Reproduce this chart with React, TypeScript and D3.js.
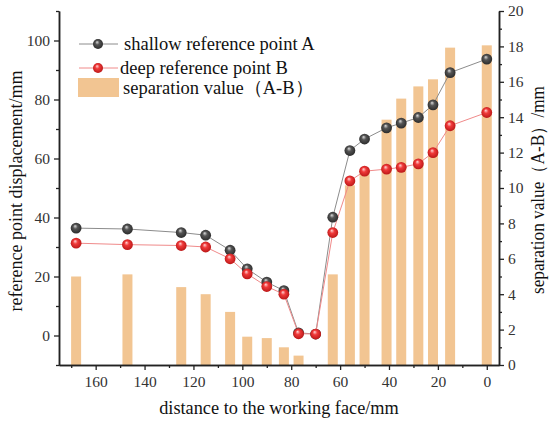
import { useEffect, useRef } from "react"
import * as d3 from "d3"

// distance to working face (mm)
const distance = [168, 147, 125, 115, 105, 98, 90, 83, 77, 70, 63, 56, 50, 41, 35, 28, 22, 15, 0]
// shallow reference point A (mm)
const shallowA = [36.4, 36.1, 34.9, 34.0, 28.9, 22.6, 18.1, 15.2, 0.9, 0.5, 40.1, 62.7, 66.6, 70.4, 72.0, 73.9, 78.2, 89.1, 93.7]
// deep reference point B (mm)
const deepB = [31.3, 30.8, 30.5, 30.0, 26.0, 20.9, 16.6, 14.0, 0.6, 0.5, 34.9, 52.4, 55.7, 56.4, 57.0, 58.2, 62.0, 71.1, 75.6]
// separation value A-B (mm, right axis)
const separation = [5.0, 5.12, 4.4, 4.0, 3.0, 1.6, 1.52, 1.0, 0.53, 0, 5.12, 10.15, 10.9, 13.86, 15.05, 15.74, 16.14, 17.93, 18.06]

const xTicks = [160, 140, 120, 100, 80, 60, 40, 20, 0]
const leftTicks = [0, 20, 40, 60, 80, 100]
const rightTicks = [0, 2, 4, 6, 8, 10, 12, 14, 16, 18, 20]

const legendItems = ["shallow reference point A", "deep reference point B", "separation value（A-B）"]

const W = 550
const H = 426
const FONT = "'Liberation Serif', 'DejaVu Serif', serif"

export default function App() {
    const svgRef = useRef<SVGSVGElement | null>(null)

    useEffect(() => {
        if (!svgRef.current) return
        const margin = { top: 11, right: 51, bottom: 61, left: 59 }
        const innerWidth = W - margin.left - margin.right
        const innerHeight = H - margin.top - margin.bottom

        const svg = d3.select(svgRef.current)
        svg.selectAll("*").remove()

        const defs = svg.append("defs")
        const addGrad = (id: string, light: string, mid: string, dark: string) => {
            const g = defs.append("radialGradient")
                .attr("id", id)
                .attr("cx", "50%").attr("cy", "50%").attr("r", "60%")
                .attr("fx", "40%").attr("fy", "30%")
            g.append("stop").attr("offset", "0%").attr("stop-color", light)
            g.append("stop").attr("offset", "35%").attr("stop-color", mid)
            g.append("stop").attr("offset", "100%").attr("stop-color", dark)
        }
        addGrad("ballA", "#dddddd", "#555555", "#222222")
        addGrad("ballB", "#ffd6d6", "#f03a3a", "#b01010")

        const g = svg.append("g").attr("transform", `translate(${margin.left},${margin.top})`)

        const x = d3.scaleLinear().domain([175, -5]).range([0, innerWidth])
        const yL = d3.scaleLinear().domain([-10, 110]).range([innerHeight, 0])
        const yR = d3.scaleLinear().domain([0, 20]).range([innerHeight, 0])

        // bars
        const barW = 10
        g.append("g")
            .selectAll("rect")
            .data(distance.map((d, i) => ({ d, v: separation[i] })))
            .enter()
            .append("rect")
            .attr("x", (p) => x(p.d) - barW / 2)
            .attr("y", (p) => yR(p.v))
            .attr("width", barW)
            .attr("height", (p) => innerHeight - yR(p.v))
            .attr("fill", "#f2c592")

        const lineGen = (vals: number[]) =>
            d3.line<number>().x((_, i) => x(distance[i])).y((v) => yL(v))(vals)

        g.append("path").attr("d", lineGen(shallowA)).attr("fill", "none").attr("stroke", "#8c8c8c").attr("stroke-width", 1)
        g.append("path").attr("d", lineGen(deepB)).attr("fill", "none").attr("stroke", "#f08a8a").attr("stroke-width", 1)

        g.append("g").selectAll("circle").data(shallowA).enter().append("circle")
            .attr("cx", (_, i) => x(distance[i])).attr("cy", (v) => yL(v)).attr("r", 5.4)
            .attr("fill", "url(#ballA)")
        g.append("g").selectAll("circle").data(deepB).enter().append("circle")
            .attr("cx", (_, i) => x(distance[i])).attr("cy", (v) => yL(v)).attr("r", 5.4)
            .attr("fill", "url(#ballB)")

        // axes
        const styleAxis = (sel: d3.Selection<SVGGElement, unknown, null, undefined>) => {
            sel.select(".domain").attr("stroke", "#222").attr("stroke-width", 1.5)
            sel.selectAll(".tick line").attr("stroke", "#222").attr("stroke-width", 1.3)
            sel.selectAll(".tick text").attr("fill", "#333").attr("font-family", FONT).attr("font-size", 15.5)
        }

        const xMinor = d3.range(170, -5, -10).filter((t) => !xTicks.includes(t))
        const xAxisG = g.append("g").attr("transform", `translate(0,${innerHeight})`)
        xAxisG.append("g").call(d3.axisBottom(x).tickValues(xMinor).tickSize(3).tickFormat(() => "").tickSizeOuter(0))
            .call(styleAxis)
        xAxisG.append("g").call(d3.axisBottom(x).tickValues(xTicks).tickSize(5).tickPadding(6).tickSizeOuter(0))
            .call(styleAxis)

        const leftMinor = d3.range(-10, 111, 10).filter((t) => !leftTicks.includes(t))
        const lG = g.append("g")
        lG.append("g").call(d3.axisLeft(yL).tickValues(leftMinor).tickSize(3).tickFormat(() => "").tickSizeOuter(0)).call(styleAxis)
        lG.append("g").call(d3.axisLeft(yL).tickValues(leftTicks).tickSize(5).tickPadding(4).tickSizeOuter(0)).call(styleAxis)

        const rightMinor = d3.range(1, 20, 2)
        const rG = g.append("g").attr("transform", `translate(${innerWidth},0)`)
        rG.append("g").call(d3.axisRight(yR).tickValues(rightMinor).tickSize(3).tickFormat(() => "").tickSizeOuter(0)).call(styleAxis)
        rG.append("g").call(d3.axisRight(yR).tickValues(rightTicks).tickSize(5).tickPadding(4).tickSizeOuter(0)).call(styleAxis)

        // axis titles
        svg.append("text")
            .attr("x", margin.left + innerWidth / 2)
            .attr("y", 414)
            .attr("text-anchor", "middle")
            .attr("font-family", FONT).attr("font-size", 18.3).attr("fill", "#111")
            .text("distance to the working face/mm")

        svg.append("text")
            .attr("transform", `translate(22,191) rotate(-90)`)
            .attr("text-anchor", "middle")
            .attr("font-family", FONT).attr("font-size", 18).attr("fill", "#111")
            .text("reference point displacement/mm")

        svg.append("text")
            .attr("transform", `translate(544,190) rotate(-90)`)
            .attr("text-anchor", "middle")
            .attr("font-family", FONT).attr("font-size", 18).attr("fill", "#111")
            .attr("textLength", 208).attr("lengthAdjust", "spacingAndGlyphs")
            .text("separation value（A-B）/mm")

        // legend
        const leg = svg.append("g")
        const rows = [44, 68, 88]
        leg.append("line").attr("x1", 79).attr("x2", 118).attr("y1", rows[0]).attr("y2", rows[0]).attr("stroke", "#8c8c8c")
        leg.append("circle").attr("cx", 98).attr("cy", rows[0]).attr("r", 5).attr("fill", "url(#ballA)")
        leg.append("line").attr("x1", 79).attr("x2", 118).attr("y1", rows[1]).attr("y2", rows[1]).attr("stroke", "#f08a8a")
        leg.append("circle").attr("cx", 98).attr("cy", rows[1]).attr("r", 5).attr("fill", "url(#ballB)")
        leg.append("rect").attr("x", 78).attr("y", 78).attr("width", 41).attr("height", 19).attr("fill", "#f2c592")
        const textX = [124, 120, 123]
        legendItems.forEach((t, i) => {
            leg.append("text")
                .attr("x", textX[i]).attr("y", rows[i])
                .attr("dy", "0.35em")
                .attr("font-family", FONT).attr("font-size", 18.5).attr("fill", "#111")
                .text(t)
        })
    }, [])

    return (
        <div style={{ width: W, height: H }}>
            <svg ref={svgRef} width={W} height={H} style={{ position: "absolute", left: 0, top: 0, background: "#fff" }} />
        </div>
    )
}
